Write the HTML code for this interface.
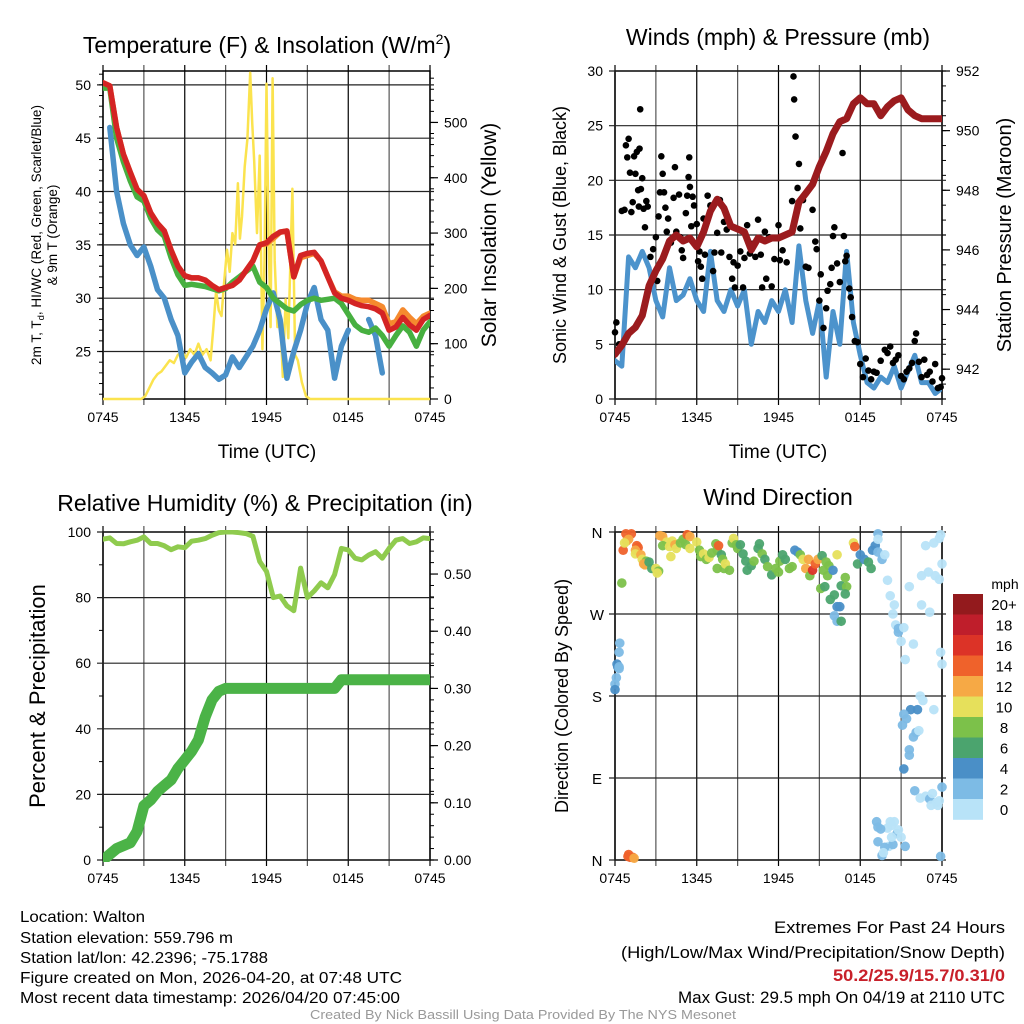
<!DOCTYPE html>
<html><head><meta charset="utf-8"><style>
html,body{margin:0;padding:0;background:#fff;}
svg{display:block;font-family:"Liberation Sans",sans-serif;}
</style></head><body>
<svg id="fig" width="1024" height="1024" viewBox="0 0 1024 1024">
<rect width="1024" height="1024" fill="#fff"/>
<text x="267" y="53" font-size="23" text-anchor="middle">Temperature (F) &amp; Insolation (W/m<tspan dy="-9" font-size="14">2</tspan><tspan dy="9">)</tspan></text>
<text x="778" y="45" font-size="23" text-anchor="middle">Winds (mph) &amp; Pressure (mb)</text>
<text x="265" y="511" font-size="23" text-anchor="middle">Relative Humidity (%) &amp; Precipitation (in)</text>
<text x="778" y="505" font-size="23" text-anchor="middle">Wind Direction</text>

<text transform="translate(41,235) rotate(-90)" font-size="13.5" text-anchor="middle">2m T, T<tspan dy="3" font-size="9.5">d</tspan><tspan dy="-3">, HI/WC (Red, Green, Scarlet/Blue)</tspan></text>
<text transform="translate(57,235) rotate(-90)" font-size="13.5" text-anchor="middle">&amp; 9m T (Orange)</text>
<text transform="translate(496,235) rotate(-90)" font-size="21" text-anchor="middle">Solar Insolation (Yellow)</text>
<text x="267" y="458" font-size="19" text-anchor="middle">Time (UTC)</text>
<text transform="translate(566,235) rotate(-90)" font-size="18" text-anchor="middle">Sonic Wind &amp; Gust (Blue, Black)</text>
<text transform="translate(1011,235) rotate(-90)" font-size="20" text-anchor="middle">Station Pressure (Maroon)</text>
<text x="778" y="458" font-size="19" text-anchor="middle">Time (UTC)</text>
<text transform="translate(45,696) rotate(-90)" font-size="22" text-anchor="middle">Percent &amp; Precipitation</text>
<text transform="translate(568,696) rotate(-90)" font-size="18" text-anchor="middle">Direction (Colored By Speed)</text>

<g id="layer"></g>

<g font-family="'Liberation Sans Narrow','Liberation Sans',sans-serif" font-size="16">
<text x="20" y="922" textLength="125" lengthAdjust="spacingAndGlyphs">Location: Walton</text>
<text x="20" y="943" textLength="213" lengthAdjust="spacingAndGlyphs">Station elevation: 559.796 m</text>
<text x="20" y="963" textLength="248" lengthAdjust="spacingAndGlyphs">Station lat/lon: 42.2396; -75.1788</text>
<text x="20" y="983" textLength="382" lengthAdjust="spacingAndGlyphs">Figure created on Mon, 2026-04-20, at 07:48 UTC</text>
<text x="20" y="1003" textLength="380" lengthAdjust="spacingAndGlyphs">Most recent data timestamp: 2026/04/20 07:45:00</text>
</g>
<g font-family="'Liberation Sans Narrow','Liberation Sans',sans-serif" font-size="17">
<text x="774" y="933" textLength="231" lengthAdjust="spacingAndGlyphs">Extremes For Past 24 Hours</text>
<text x="621" y="958" textLength="384" lengthAdjust="spacingAndGlyphs">(High/Low/Max Wind/Precipitation/Snow Depth)</text>
<text x="833" y="981" textLength="172" lengthAdjust="spacingAndGlyphs" fill="#c8202a" font-weight="bold">50.2/25.9/15.7/0.31/0</text>
<text x="678" y="1003" textLength="327" lengthAdjust="spacingAndGlyphs">Max Gust: 29.5 mph On 04/19 at 2110 UTC</text>
</g>
<text x="523" y="1019" font-family="'Liberation Sans Narrow','Liberation Sans',sans-serif" font-size="12.5" textLength="426" lengthAdjust="spacingAndGlyphs" fill="#999" text-anchor="middle">Created By Nick Bassill Using Data Provided By The NYS Mesonet</text>
</svg>
<script>
const hours=[0,0.5,1,1.5,2,2.5,3,3.5,4,4.5,5,5.5,6,6.5,7,7.5,8,8.5,9,9.5,10,10.5,11,11.5,12,12.5,13,13.5,14,14.5,15,15.5,16,16.5,17,17.5,18,18.5,19,19.5,20,20.5,21,21.5,22,22.5,23,23.5,24];
const tempRed=[50.2,49.9,46,43.5,41.8,40.2,39.6,38,37,36.3,34.5,33,32.1,31.9,31.9,31.7,31.2,30.8,31,31.2,31.7,32.6,33.5,35,35.2,35.8,36.2,36.3,32,34,34.2,34.3,33.5,32,30.5,30,29.8,29.5,29.3,29.2,29,28.6,27,27.3,28.2,27.5,27,28,28.4];
const tempOrange=[50.2,49.9,46,43.5,41.8,40.2,39.6,38,37,36.3,34.5,33,32.1,31.9,31.9,31.7,31.2,30.8,31,31.2,31.7,32.6,33.5,35,35.1,35.6,36.2,36.3,32,33.8,34,34.2,33.5,32,30.6,30.2,30.2,29.9,29.8,29.8,29.5,29.2,27.6,27.8,28.9,28.2,27.6,28.3,28.6];
const tempGreen=[49.7,49.7,45,42.8,41,39.5,39.1,37.5,36.4,35.8,33.8,32.2,31.2,31.3,31.2,31.1,30.9,30.7,30.9,31.5,32,32.5,33,31.5,31,30,29.5,29,28.8,29.4,29.8,30,29.8,29.9,30,29.5,28.5,27.5,27,26.8,27.2,26.5,25.5,26.5,27.4,26.8,25.5,27,27.8];
const dewBlue=[null,46,40,37,35,34,34.8,33,30.8,30,28,26.5,23,24,24.8,23.5,23,22.4,22.8,24.5,23.5,24.5,25.5,27,29,30.5,28,22.5,25,27,29.5,31,28,27,22.5,25.5,27,null,null,28,26.5,23,null,null,23.5,null,null,null,null];
const solarHours=[0,2.8,3.1,3.4,3.7,4.0,4.3,4.6,4.9,5.2,5.5,5.8,6.1,6.4,6.7,7.0,7.3,7.6,7.9,8.1,8.3,8.5,8.7,8.9,9.1,9.3,9.5,9.7,9.9,10.05,10.2,10.4,10.6,10.8,10.95,11.1,11.3,11.5,11.7,11.85,12.0,12.15,12.3,12.45,12.6,12.8,13.0,13.2,13.4,13.6,13.9,14.1,14.3,14.6,14.9,15.2,24];
const solarVals=[0,0,5,20,35,45,50,60,70,65,80,85,75,90,80,100,80,90,70,130,195,160,150,215,270,230,300,280,390,290,330,420,470,590,500,430,300,440,90,250,570,300,130,580,250,130,160,40,180,110,380,80,70,30,5,0,0];
const windBlue=[3.5,3,13,12,13.5,12,9,7.5,12,9,9.5,11,9,8,13.5,9,8,10,8.5,10,5,8,7,9,8,10,7,14,9,6,9,2,8,5,13.5,7,4,1.5,1,2,1.5,3,1,2.5,4,1.5,1.5,0.5,1];
const pressure=[942.5,942.8,943.2,943.4,943.8,944.8,945.3,945.7,946.3,946.5,946.3,946.4,946.1,946.6,947.3,947.7,947.4,946.8,946.7,946.6,946,946.4,946.3,946.4,946.4,946.5,946.6,947.6,947.9,948.2,948.8,949.3,949.9,950.3,950.4,950.9,951.1,950.9,950.9,950.5,950.8,951,951.1,950.7,950.5,950.4,950.4,950.4,950.4];
const gustHours=[0,0.1,0.3,0.5,0.7,0.8,0.9,1,1.1,1.2,1.3,1.4,1.5,1.6,1.7,1.75,1.8,1.85,1.9,2,2.1,2.2,2.3,2.4,2.6,2.8,3,3.1,3.2,3.3,3.4,3.5,3.6,3.7,3.8,3.9,4.1,4.3,4.4,4.5,4.7,4.8,4.9,5,5.2,5.3,5.4,5.45,5.5,5.6,5.7,5.8,6,6.1,6.2,6.3,6.4,6.5,6.6,6.8,7,7.2,7.3,7.5,7.7,7.8,8,8.2,8.4,8.6,8.7,8.8,9,9.2,9.4,9.5,9.7,9.9,10.1,10.3,10.5,10.7,10.8,11,11.1,11.3,11.5,11.7,12,12.1,12.3,12.6,13,13.1,13.15,13.25,13.4,13.5,13.6,13.8,14,14.2,14.5,14.7,14.8,15,15.1,15.3,15.5,15.6,15.8,15.9,16,16.1,16.3,16.5,16.7,16.8,16.9,17,17.2,17.3,17.4,17.6,17.8,18,18.2,18.4,18.6,18.8,19,19.2,19.5,19.8,20,20.2,20.4,20.6,20.8,21,21.2,21.4,21.6,21.8,22,22.1,22.3,22.5,22.7,22.9,23.1,23.3,23.5,23.7,23.9,24];
const gustVals=[6.1,7,5,17.2,17.3,23.2,22.1,23.8,20.7,17.1,18,22.2,20.6,22.6,19.1,17.6,22.9,26.5,19.2,20.2,17.4,15.7,18.1,17.6,13,13.7,14.8,10.8,16.7,18.9,22.2,20.6,18.9,17.5,15.3,16.5,14.3,18.4,21.2,15.3,18.7,14.8,13.6,12.9,17,18.6,20.3,22.1,19.4,15.8,18.5,17.7,16,12.6,13.5,12.1,11,16.5,13.2,18.6,17.7,11.7,13.4,15.2,18.2,13.4,16.2,15.5,13,11,12.5,10.2,12.2,13.5,10.2,12.9,15.9,13.3,14.2,13,16.4,13.2,10.2,15.3,11,14.8,10.3,12.8,15.9,12.7,13.6,12.5,18.1,29.5,27.4,24,19.3,21.5,15.6,18.2,12.1,12,17.3,14.4,13.7,9,11.4,6.5,8.3,9.9,10.5,12,14.9,15.7,12.4,10.7,22.5,14.9,12.6,13.1,10.1,9.3,7.5,5.3,5.2,3.2,2,3.7,2.6,1.8,2.5,2.4,3.5,4.5,4.2,4.8,3.3,3.6,4,2.1,1.8,2.5,2.8,3.3,5.3,6,3.4,2,3.6,2.2,2.5,1.6,3.2,1,1.1,1.9];
const rhVals=[97.8,98.2,96.5,96.4,97,97.5,98.5,96.5,96.5,95.8,94.6,95.5,95.2,97.2,97.5,98,99,99.8,100,100,99.8,99.5,98.7,91,88,80,80.5,77.5,76,89,80,82,84.5,83,87,95,94.5,92,91.5,93,94,92,95,97.5,98,96.5,97,98.2,98];
const precipVals=[0,0.01,0.02,0.025,0.03,0.05,0.095,0.105,0.12,0.13,0.14,0.16,0.175,0.19,0.21,0.25,0.28,0.295,0.3,0.3,0.3,0.3,0.3,0.3,0.3,0.3,0.3,0.3,0.3,0.3,0.3,0.3,0.3,0.3,0.3,0.315,0.315,0.315,0.315,0.315,0.315,0.315,0.315,0.315,0.315,0.315,0.315,0.315,0.315];
const dirHours=[0,0,0.1,0.15,0.2,0.3,0.3,0.35,0.3,0.95,1.1,1.3,1,1.4,0.8,1.2,0.85,0.6,1,1.6,1.7,1.5,1.5,1.9,2,2.3,2.1,2.2,2.5,2.7,3,3.2,3.1,0.5,0.7,3.3,3.5,3.8,3.5,4,4.2,4.4,4.5,4.1,4.8,5,5.3,5.5,5.2,5.5,6,6.2,6.3,6.5,6.7,6.9,7.1,7.4,7.5,7.6,7.8,7.9,8,7.5,8.1,8.4,8.6,8.7,8.9,9,9.2,9.4,9.6,9.7,10,10.2,10.5,10.6,10.8,11,11.2,11.5,11.8,12.1,12.3,12.5,12.8,12,13,13.2,13.4,13.6,13.8,14,14.2,14.3,14.5,14.7,14.9,15.2,15.5,15.3,15.6,15.7,16,16.3,15.1,15.4,15.8,16.1,16.3,16.5,16.6,16.9,17,16.9,16.1,16.3,16.6,17.5,17.6,17.8,18,18.3,18.6,18.8,18.9,19.1,19.3,19.6,19.3,19.3,19.8,20,20.2,20.5,20.4,20.6,20.8,20.8,21,21.3,21.2,21.6,21.9,22.5,23.1,23.5,23.8,24,23.9,23.8,22.8,23.4,23,22.5,23.9,24,23.4,22.4,22.6,22.2,21.7,21.4,21.1,21.2,21.9,22.1,22.3,21.6,21.6,21.2,22,22.4,22.8,23.1,23.2,23.3,23.6,23.7,23.8,24,23.9,20,20.3,20.2,19.2,19.3,19.5,20.7,20.1,19.8,19.6,19.7,20.4,19.3,21.3,20.8,21,20.3,20.5];
const dirDeg=[193,187,200,215,212,228,210,238,212,4,3,3,6,2,358,358,350,340,352,345,343,340,336,335,330,328,325,324,327,320,320,317,315,304,348,356,355,349,345,344,350,346,342,333,348,352,357,355,346,342,349,340,333,336,330,332,337,347,340,345,335,330,320,320,325,318,348,353,346,342,346,336,328,318,323,328,342,347,336,330,322,313,320,328,335,330,320,316,322,340,338,335,330,320,330,312,318,325,330,334,327,318,312,323,318,335,298,300,286,291,278,278,301,310,300,292,268,262,262,348,344,325,335,330,327,320,340,345,338,330,358,352,335,307,290,280,270,258,250,254,240,220,255,300,237,280,272,312,308,325,357,353,345,348,316,312,228,215,165,180,175,165,165,155,148,160,135,140,142,115,121,100,76,68,70,67,60,73,63,60,65,80,4,35,38,42,42,36,34,29,15,14,5,8,17,20,15,33,25,25,42];
const dirSpeed=[3,4,3,4,4,2,2,2,3,14,14,14,14,13,14,14,13,14,12,14,14,13,10,12,10,8,12,13,6,6,10,9,10,8,10,12,12,10,8,11,11,12,10,10,8,9,14,12,8,10,10,8,8,10,8,10,8,9,8,14,6,8,8,8,10,8,9,10,9,8,6,6,6,7,7,8,6,6,8,6,8,6,8,8,7,6,9,8,8,5,4,9,10,12,12,9,16,14,12,6,8,8,9,8,4,10,8,7,6,6,4,4,6,9,8,7,3,2,6,11,15,6,4,4,6,7,4,4,3,3,2,1,1,1,1,1,1,1,3,2,1,1,1,1,1,1,1,1,1,1,0,0,0,1,1,0,1,1,1,1,1,4,4,3,3,3,2,2,1,2,3,4,3,1,1,2,1,0,1,1,1,2,2,1,0,1,2,3,2,3,1,2,3,1,3,2,3,1,1,1,1,1,2];
const timeLabels=["0745","1345","1945","0145","0745"];
const tempTicks=[25,30,35,40,45,50];
const solarTicks=[0,100,200,300,400,500];
const windTicks=[0,5,10,15,20,25,30];
const pressTicks=[942,944,946,948,950,952];
const rhTicks=[0,20,40,60,80,100];
const precipTicks=["0.00","0.10","0.20","0.30","0.40","0.50"];
const dirLabels=["N","E","S","W","N"];
const legendLabels=["20+","18","16","14","12","10","8","6","4","2","0"];
const legendColors=["#931a1d","#bf1e2b","#dc3327","#ef622b","#f6a945","#e6e05b","#7cc14a","#4ba46e","#4a8fc7","#7dbbe5","#b8e3f8"];

const NS="http://www.w3.org/2000/svg";
const layer=document.getElementById('layer');
function mk(tag,attrs,parent){const e=document.createElementNS(NS,tag);for(const k in attrs)e.setAttribute(k,attrs[k]);(parent||layer).appendChild(e);return e;}
function panel(x0,y0,w,h){return {x0,y0,w,h,x:t=>x0+t/24*w};}
const P1=panel(103,71,327,328),P2=panel(615,71,327,328),P3=panel(103,532,327,328),P4=panel(615,532,327,328);
const yT=v=>P1.y0+(51.3-v)/(51.3-20.55)*P1.h;
const yS=v=>P1.y0+P1.h-v/593*P1.h;
const yW=v=>P2.y0+P2.h-v/30*P2.h;
const yP=v=>P2.y0+(952-v)/11*P2.h;
const yR=v=>P3.y0+P3.h-v/100*P3.h;
const yPr=v=>P3.y0+P3.h-v/0.5735*P3.h;
const yD=v=>P4.y0+P4.h-v/360*P4.h;

function frame(P,name,clipId){
  const g=mk('g',{});
  
  
  for(let i=0;i<=8;i++){const x=P.x0+i*P.w/8;
    const l=mk('line',{x1:x,x2:x,y1:P.y0-6,y2:P.y0+P.h+6,stroke:i%2?'#555':'#000','stroke-width':1.2},g);
    }
  mk('rect',{x:P.x0,y:P.y0,width:P.w,height:P.h,fill:'none',stroke:'#000','stroke-width':1.5},g);
  timeLabels.forEach((s,i)=>{const t=mk('text',{x:P.x0+i*P.w/4,y:P.y0+P.h+23,'font-size':14,'text-anchor':'middle'},g);t.textContent=s;
    });
  const c=mk('clipPath',{id:clipId});mk('rect',{x:P.x0,y:P.y0-2,width:P.w,height:P.h+4},c);
  return g;
}
function hgrid(P,vals,yf,g){vals.forEach(v=>{const y=yf(v);mk('line',{x1:P.x0-6,x2:P.x0+P.w+4,y1:y,y2:y,stroke:'#222','stroke-width':1.2},g);});}
function leftLabels(P,vals,yf,g,txt){vals.forEach((v,i)=>{const t=mk('text',{x:P.x0-12,y:yf(v)+5,'font-size':14,'text-anchor':'end'},g);t.textContent=txt?txt[i]:v;
  });}
function rightAxis(P,vals,yf,g,txt,minor){
  minor.forEach(v=>{const y=yf(v);if(y>=P.y0&&y<=P.y0+P.h)mk('line',{x1:P.x0+P.w,x2:P.x0+P.w+4,y1:y,y2:y,stroke:'#000'},g);});
  vals.forEach((v,i)=>{const y=yf(v);mk('line',{x1:P.x0+P.w,x2:P.x0+P.w+8,y1:y,y2:y,stroke:'#000','stroke-width':1.2},g);
    const t=mk('text',{x:P.x0+P.w+14,y:y+5,'font-size':14},g);t.textContent=txt?txt[i]:v;
    });}
function leftMinor(P,vals,yf,g){vals.forEach(v=>{const y=yf(v);if(y>=P.y0&&y<=P.y0+P.h)mk('line',{x1:P.x0-4,x2:P.x0,y1:y,y2:y,stroke:'#000'},g);});}
function line(xs,ys,xf,yf,color,width,clip,name){
  let d='';let pen=false;
  xs.forEach((t,i)=>{const v=ys[i];if(v===null||v===undefined){pen=false;return;}d+=(pen?'L':'M')+xf(t).toFixed(1)+' '+yf(v).toFixed(1);pen=true;});
  const p=mk('path',{d,fill:'none',stroke:color,'stroke-width':width,'stroke-linejoin':'round','stroke-linecap':'round','clip-path':'url(#'+clip+')'});
  return p;}
const rng=(a,b,s)=>{const r=[];for(let v=a;v<=b+1e-9;v+=s)r.push(+v.toFixed(3));return r;};

// Panel 1
let g1=frame(P1,'temperature','c1');
hgrid(P1,tempTicks,yT,g1);leftLabels(P1,tempTicks,yT,g1);leftMinor(P1,rng(21,51,1),yT,g1);
rightAxis(P1,solarTicks,yS,g1,null,rng(0,590,20));
line(solarHours,solarVals,P1.x,yS,'#fbe34e',2.5,'c1','solar-insolation-line');
line(hours,dewBlue,P1.x,yT,'#4a90c8',5.5,'c1','dewpoint-line');
line(hours,tempGreen,P1.x,yT,'#47b040',5.5,'c1','heat-index-windchill-line');
line(hours,tempOrange,P1.x,yT,'#f58a2e',5.5,'c1','temperature-9m-line');
line(hours,tempRed,P1.x,yT,'#d42424',5.5,'c1','temperature-2m-line');

// Panel 2
let g2=frame(P2,'wind','c2');
hgrid(P2,windTicks,yW,g2);leftLabels(P2,windTicks,yW,g2);
rightAxis(P2,pressTicks,yP,g2,null,rng(941,952,0.5));
line(hours,windBlue,P2.x,yW,'#4c93cc',5,'c2','sonic-wind-line');
gustHours.forEach((t,i)=>{const c=mk('circle',{cx:P2.x(t),cy:yW(gustVals[i]),r:3.3,fill:'#000'});
  });
line(hours,pressure,P2.x,yP,'#9b1b1e',7,'c2','station-pressure-line');

// Panel 3
let g3=frame(P3,'humidity','c3');
hgrid(P3,rhTicks,yR,g3);leftLabels(P3,rhTicks,yR,g3);leftMinor(P3,rng(10,90,20),yR,g3);
rightAxis(P3,[0,0.1,0.2,0.3,0.4,0.5],yPr,g3,precipTicks,rng(0,0.56,0.02));
line(hours,rhVals,P3.x,yR,'#8fcb4e',5,'c3','relative-humidity-line');
line(hours,precipVals,P3.x,yPr,'#4bb347',11,'c3','precipitation-line');

// Panel 4
let g4=frame(P4,'wind-direction','c4');
hgrid(P4,[0,90,180,270,360],yD,g4);
dirLabels.forEach((s,i)=>{const t=mk('text',{x:P4.x0-18,y:yD(i*90)+6,'font-size':15,'text-anchor':'middle'},g4);t.textContent=s;
  });
function spColor(s){const idx=Math.min(10,Math.max(0,Math.floor(s/2)));return legendColors[10-idx];}
dirHours.forEach((t,i)=>{const c=mk('circle',{cx:P4.x(t),cy:yD(dirDeg[i]),r:4.8,fill:spColor(dirSpeed[i]),'fill-opacity':0.95});
  });
// legend
const lg=mk('g',{});


const lt=mk('text',{x:1005,y:589,'font-size':14,'text-anchor':'middle'},lg);lt.textContent='mph';

const bh=20.5;
legendColors.forEach((c,i)=>{const r=mk('rect',{x:953,y:594+i*bh,width:30,height:bh+0.3,fill:c},lg);
  
  const t=mk('text',{x:1004,y:594+i*bh+bh/2+5.5,'font-size':15,'text-anchor':'middle'},lg);t.textContent=legendLabels[i];
  });
</script>
</body></html>
